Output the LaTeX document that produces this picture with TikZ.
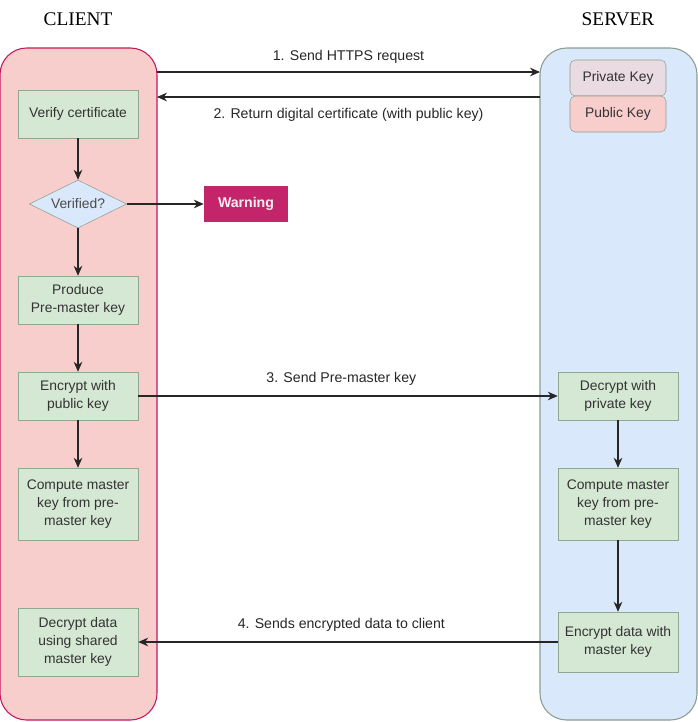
\documentclass[tikz,border=0pt]{standalone}
\usepackage{fontspec}
\setmainfont{Liberation Serif}
\setsansfont{Liberation Sans}
\usetikzlibrary{shapes.geometric, arrows, arrows.meta, positioning}
\definecolor{clientfill}{HTML}{F8CECC}
\definecolor{clientline}{HTML}{C2185B}
\definecolor{serverfill}{HTML}{DAE8FC}
\definecolor{serverline}{HTML}{8A9E8E}
\definecolor{stepfill}{HTML}{D5E8D4}
\definecolor{stepline}{HTML}{8FA88F}
\definecolor{warnfill}{HTML}{C4256A}
\tikzstyle{panel} = [rounded corners=20, line width=0.8pt]
\tikzstyle{stepbox} = [draw=stepline, fill=stepfill, minimum width=90pt, align=center, font=\sffamily\fontsize{10.4}{13.5}\selectfont, text=black!80]
\tikzstyle{keybox} = [draw=serverline, rounded corners=4, minimum width=72pt, minimum height=27pt, font=\sffamily\fontsize{10.4}{12}\selectfont, text=black!80]
\tikzstyle{arrow} = [->, thick, black!85]
\tikzstyle{msg} = [font=\sffamily\fontsize{10.6}{12}\selectfont]

\begin{document}
\begin{tikzpicture}[x=0.75pt, y=-0.75pt, >={Stealth[length=7.5pt,width=6.5pt]}]
            \useasboundingbox (0,0) rectangle (698,722);
            % 标题
            \node[font=\fontsize{14.5}{16}\selectfont] (clienttitle) at (78,19) {CLIENT};
            \node[font=\fontsize{14.5}{16}\selectfont] (servertitle) at (618,19) {SERVER};

            % 两侧面板
            \draw[panel, draw=clientline, fill=clientfill] (0,48) rectangle (157,720);
            \draw[panel, draw=serverline, fill=serverfill] (540,48) rectangle (697,720);
            \coordinate (clientA) at (157,72);
            \coordinate (serverA) at (540,72);
            \coordinate (clientB) at (157,97);
            \coordinate (serverB) at (540,97);

            % 客户端步骤
            \node[stepbox, minimum height=36pt] (verify) at (78,114) {Verify certificate};
            \node[diamond, aspect=2, draw=serverline, fill=serverfill, inner sep=1pt, minimum width=73pt, minimum height=36pt, font=\sffamily\fontsize{10.4}{12}\selectfont, text=black!70] (check) at (78,204) {Verified?};
            \node[fill=warnfill, minimum width=63pt, minimum height=27pt, text=white!92!warnfill, font=\sffamily\bfseries\fontsize{10.6}{12}\selectfont] (warning) at (246,204) {Warning};
            \node[stepbox, minimum height=36pt] (produce) at (78,300) {Produce\\Pre-master key};
            \node[stepbox, minimum height=36pt] (encrypt) at (78,396) {Encrypt with\\public key};
            \node[stepbox, minimum height=54pt] (computec) at (78,504) {Compute master\\key from pre-\\master key};
            \node[stepbox, minimum height=51pt] (decryptc) at (78,642) {Decrypt data\\using shared\\master key};

            % 服务器端
            \node[keybox, fill=clientfill!55!serverfill] (privkey) at (618,78) {Private Key};
            \node[keybox, fill=clientfill] (pubkey) at (618,114) {Public Key};
            \node[stepbox, minimum height=36pt] (decrypts) at (618,396) {Decrypt with\\private key};
            \node[stepbox, minimum height=54pt] (computes) at (618,504) {Compute master\\key from pre-\\master key};
            \node[stepbox, minimum height=45pt] (encrypts) at (618,642) {Encrypt data with\\master key};

            % 消息
            \draw[arrow] (clientA) -- node[msg, above=3pt]{1. Send HTTPS request} (serverA);
            \draw[arrow] (serverB) -- node[msg, below=5pt]{2. Return digital certificate (with public key)} (clientB);
            \draw[arrow] (encrypt) -- node[msg, above=4pt, xshift=-5]{3. Send Pre-master key} (decrypts);
            \draw[arrow] (encrypts) -- node[msg, above=4pt, xshift=-5]{4. Sends encrypted data to client} (decryptc);

            % 流程
            \draw[arrow] (verify) -- (check);
            \draw[arrow] (check) -- (warning);
            \draw[arrow] (check) -- (produce);
            \draw[arrow] (produce) -- (encrypt);
            \draw[arrow] (encrypt) -- (computec);
            \draw[arrow] (decrypts) -- (computes);
            \draw[arrow] (computes) -- (encrypts);
        \end{tikzpicture}
\end{document}
